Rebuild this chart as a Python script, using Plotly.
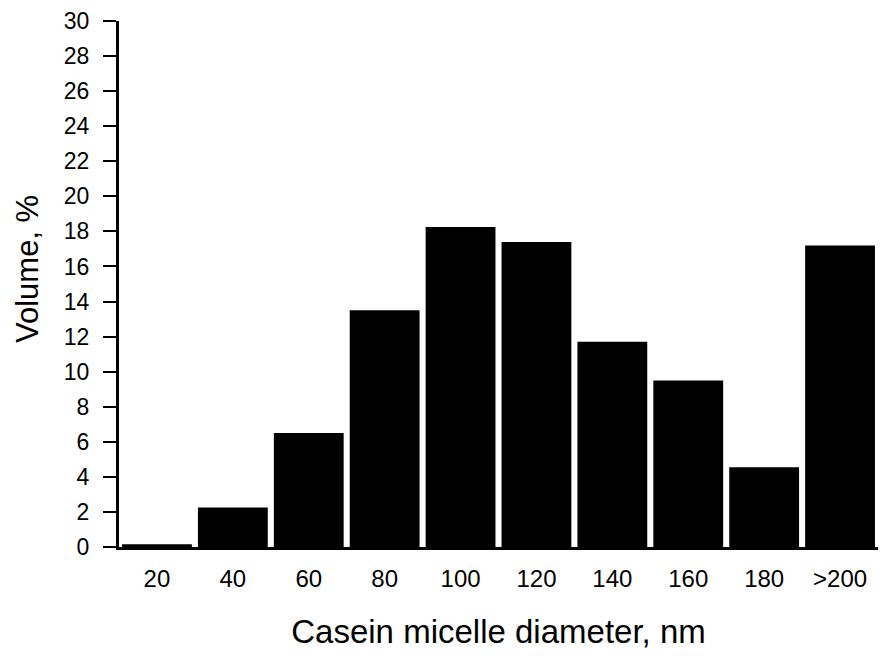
import plotly.graph_objects as go

categories = ["20", "40", "60", "80", "100", "120", "140", "160", "180", ">200"]
volume_pct = [0.15, 2.25, 6.5, 13.5, 18.25, 17.4, 11.7, 9.5, 4.55, 17.2]
y_ticks = list(range(0, 31, 2))

FONT = "Liberation Sans, Arial, Helvetica, sans-serif"

fig = go.Figure(
    go.Bar(
        x=categories,
        y=volume_pct,
        marker=dict(color="#000000", line=dict(width=0)),
    )
)

fig.update_layout(
    width=880,
    height=656,
    margin=dict(l=119, r=2, t=21, b=109),
    paper_bgcolor="white",
    plot_bgcolor="white",
    bargap=0.08,
    showlegend=False,
    font=dict(family=FONT, color="#000000"),
)

fig.update_xaxes(
    type="category",
    range=[-0.5, 9.5],
    showline=True,
    linecolor="#000000",
    linewidth=3,
    showgrid=False,
    zeroline=False,
    ticks="",
    tickfont=dict(size=24, family=FONT),
    ticklabelstandoff=8,
    title=dict(text="Casein micelle diameter, nm", font=dict(size=33, family=FONT), standoff=30),
)

fig.update_yaxes(
    range=[0, 30],
    tickmode="array",
    tickvals=y_ticks,
    ticktext=[str(v) for v in y_ticks],
    showline=True,
    linecolor="#000000",
    linewidth=3,
    showgrid=False,
    zeroline=False,
    ticks="outside",
    ticklen=13,
    tickwidth=2,
    tickcolor="#000000",
    tickfont=dict(size=23, family=FONT),
    ticklabelstandoff=9,
)

# y-axis title placed as annotation (sits a little above the plot centre in the reference)
fig.add_annotation(
    text="Volume, %",
    textangle=-90,
    xref="paper", yref="paper",
    x=-(119 - 27) / 759, y=(547 - 269) / 526,
    xanchor="center", yanchor="middle",
    showarrow=False,
    font=dict(size=31, family=FONT, color="#000000"),
)

fig.write_html("out.html")
